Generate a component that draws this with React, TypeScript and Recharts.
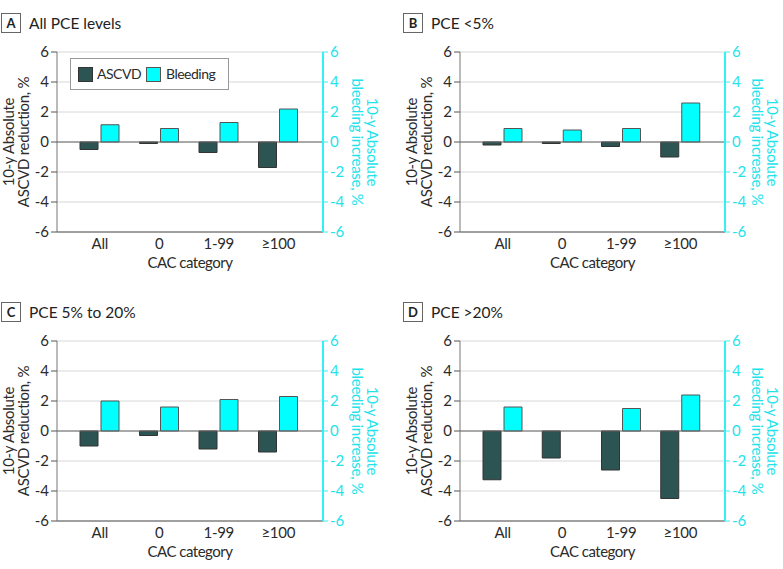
import React from 'react';
import { BarChart, Bar, XAxis, YAxis, CartesianGrid, ReferenceLine } from 'recharts';

const categories = ['All', '0', '1-99', '≥100'];
const yTicks = [-6, -4, -2, 0, 2, 4, 6];
const panelLetters = ['A', 'B', 'C', 'D'];
const panelTitles = ['All PCE levels', 'PCE <5%', 'PCE 5% to 20%', 'PCE >20%'];
const seriesNames = ['ASCVD', 'Bleeding'];

const ascvdA = [-0.5, -0.1, -0.7, -1.7];
const bleedingA = [1.15, 0.9, 1.3, 2.2];
const ascvdB = [-0.2, -0.1, -0.3, -1.0];
const bleedingB = [0.9, 0.8, 0.9, 2.6];
const ascvdC = [-1.0, -0.3, -1.2, -1.4];
const bleedingC = [2.0, 1.6, 2.1, 2.3];
const ascvdD = [-3.25, -1.8, -2.6, -4.5];
const bleedingD = [1.6, null, 1.5, 2.4];

const FONT = 'Lato, sans-serif';
const FS = 15;
const LS = -0.3;
const DARK_TEXT = '#2b2b2b';
const ASCVD_FILL = '#2b5452';
const BLEED_FILL = '#00ffff';
const CYAN_TEXT = '#22e3ec';
const CYAN_AXIS = '#33f0f5';

const PLOT_TOP = 52;
const PLOT_H = 180;
const XAXIS_H = 40;

type PanelProps = {
  idx: number;
  ascvd: (number | null)[];
  bleeding: (number | null)[];
  left: number;
  top: number;
  width: number;
  height: number;
  leftW: number;
  rightW: number;
  boxX: number;
  rightTitleOffset: number;
  showLegend?: boolean;
};

function Panel(p: PanelProps) {
  const data = categories.map((c, i) => ({ cat: c, ascvd: p.ascvd[i], bleeding: p.bleeding[i] }));
  const plotLeft = p.leftW;
  const plotRight = p.width - p.rightW;
  const cy = PLOT_TOP + PLOT_H / 2;
  const mb = p.height - PLOT_TOP - PLOT_H - XAXIS_H;
  const r1 = plotRight + p.rightTitleOffset;
  const r2 = r1 - 15;

  const leftTitle = () => (
    <g>
      <text transform={`rotate(-90, ${plotLeft - 43}, ${cy})`} x={plotLeft - 43} y={cy} textAnchor="middle"
        fontFamily={FONT} fontSize={FS} letterSpacing={LS} fill={DARK_TEXT}>10-y Absolute</text>
      <text transform={`rotate(-90, ${plotLeft - 28}, ${cy})`} x={plotLeft - 28} y={cy} textAnchor="middle"
        fontFamily={FONT} fontSize={FS} letterSpacing={LS} fill={DARK_TEXT}>ASCVD reduction, %</text>
    </g>
  );
  const rightTitle = () => (
    <g>
      <text transform={`rotate(90, ${r1}, ${cy})`} x={r1} y={cy} textAnchor="middle"
        fontFamily={FONT} fontSize={FS} letterSpacing={LS} fill={CYAN_TEXT}>10-y Absolute</text>
      <text transform={`rotate(90, ${r2}, ${cy})`} x={r2} y={cy} textAnchor="middle"
        fontFamily={FONT} fontSize={FS} letterSpacing={LS} fill={CYAN_TEXT}>bleeding increase, %</text>
    </g>
  );

  return (
    <div style={{ position: 'absolute', left: p.left, top: p.top, width: p.width, height: p.height }}>
      <div style={{ position: 'absolute', left: p.boxX, top: 13, display: 'flex', alignItems: 'center', fontFamily: FONT }}>
        <div style={{ width: 20, height: 20, border: '1px solid #666', display: 'flex', alignItems: 'center', justifyContent: 'center', fontWeight: 700, fontSize: 13, color: '#222', boxSizing: 'border-box' }}>{panelLetters[p.idx]}</div>
        <div style={{ marginLeft: 8, fontSize: 15.5, color: '#222' }}>{panelTitles[p.idx]}</div>
      </div>
      <BarChart width={p.width} height={p.height} data={data}
        margin={{ top: PLOT_TOP, right: 0, left: 0, bottom: mb }} barSize={18} barGap={3}>
        <CartesianGrid horizontal vertical={false} stroke="#d8d8d8" />
        <XAxis dataKey="cat" height={XAXIS_H} padding={{ left: 13, right: 15 }} tickLine={false}
          axisLine={{ stroke: '#555' }} tickSize={4} tickMargin={2}
          tick={{ fontFamily: FONT, fontSize: FS, letterSpacing: LS, fill: DARK_TEXT }}
          label={{ value: 'CAC category', position: 'insideBottom', offset: 4, fontFamily: FONT, fontSize: 15, letterSpacing: -0.5, fill: DARK_TEXT }} />
        <YAxis yAxisId={0} orientation="left" width={p.leftW} domain={[-6, 6]} ticks={yTicks} type="number"
          allowDataOverflow axisLine={{ stroke: '#777' }} tickLine={{ stroke: '#555' }} tickSize={6} tickMargin={2}
          tick={{ fontFamily: FONT, fontSize: FS, fill: DARK_TEXT }} label={leftTitle} />
        <YAxis yAxisId="r" orientation="right" width={p.rightW} domain={[-6, 6]} ticks={yTicks} type="number"
          allowDataOverflow axisLine={{ stroke: CYAN_AXIS, strokeWidth: 2 }} tickLine={{ stroke: CYAN_AXIS }} tickSize={5} tickMargin={2}
          tick={{ fontFamily: FONT, fontSize: FS, fill: CYAN_TEXT }} label={rightTitle} />
        <ReferenceLine y={0} yAxisId={0} stroke="#666" />
        <Bar dataKey="ascvd" name={seriesNames[0]} yAxisId={0} fill={ASCVD_FILL} stroke="#333" strokeWidth={1} isAnimationActive={false} />
        <Bar dataKey="bleeding" name={seriesNames[1]} yAxisId={0} fill={BLEED_FILL} stroke="#555" strokeWidth={1} isAnimationActive={false} />
      </BarChart>
      {p.showLegend && (
        <div style={{ position: 'absolute', left: 70, top: 58, width: 159, height: 32, boxSizing: 'border-box', border: '1px solid #999', background: '#fff', fontFamily: FONT, fontSize: 14, letterSpacing: -0.5, color: DARK_TEXT }}>
          <div style={{ position: 'absolute', left: 7, top: 8, width: 15, height: 15, background: ASCVD_FILL, border: '1px solid #333', boxSizing: 'border-box' }} />
          <span style={{ position: 'absolute', left: 26, top: 6, lineHeight: '18px' }}>{seriesNames[0]}</span>
          <div style={{ position: 'absolute', left: 75, top: 8, width: 15, height: 15, background: BLEED_FILL, border: '1px solid #555', boxSizing: 'border-box' }} />
          <span style={{ position: 'absolute', left: 95, top: 6, lineHeight: '18px' }}>{seriesNames[1]}</span>
        </div>
      )}
    </div>
  );
}

export default function App() {
  return (
    <div style={{ position: 'absolute', left: 0, top: 0, width: 783, height: 569, background: '#fff', overflow: 'hidden' }}>
      <Panel idx={0} ascvd={ascvdA} bleeding={bleedingA} left={0} top={0} width={390} height={285} leftW={57} rightW={67} boxX={1} rightTitleOffset={44} showLegend />
      <Panel idx={1} ascvd={ascvdB} bleeding={bleedingB} left={390} top={0} width={393} height={285} leftW={70} rightW={58} boxX={13} rightTitleOffset={42} />
      <Panel idx={2} ascvd={ascvdC} bleeding={bleedingC} left={0} top={289} width={390} height={280} leftW={57} rightW={67} boxX={1} rightTitleOffset={44} />
      <Panel idx={3} ascvd={ascvdD} bleeding={bleedingD} left={390} top={289} width={393} height={280} leftW={70} rightW={58} boxX={13} rightTitleOffset={42} />
    </div>
  );
}
